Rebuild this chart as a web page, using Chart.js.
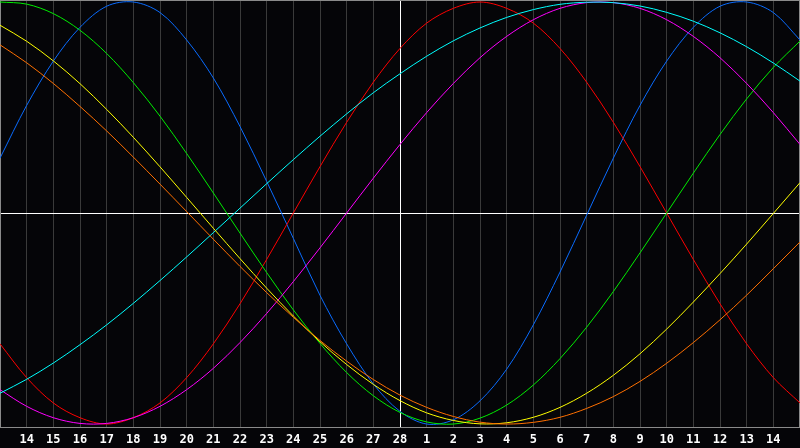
<!DOCTYPE html>
<html lang="en">
<head>
    <meta charset="UTF-8">
    <title>Biorhythm</title>
    <script src="https://cdn.jsdelivr.net/npm/chart.js"></script>
    <style>
        html, body {
            margin: 0;
            padding: 0;
            background: #050508;
        }

        .chart-box {
            position: relative;
            width: 800px;
            height: 448px;
        }
    </style>
</head>
<body>
    <div class="chart-box">
        <canvas id="bioChart"></canvas>
    </div>

    <script>
        // Days shown (February, centre line on the 28th)
        const days = [13, 14, 15, 16, 17, 18, 19, 20, 21, 22, 23, 24, 25, 26, 27, 28,
                      1, 2, 3, 4, 5, 6, 7, 8, 9, 10, 11, 12, 13, 14, 15];

        // Cycle values, one per day
        const physical = [0.26, 0.51, 0.72, 0.88, 0.98, 1.00, 0.95, 0.82, 0.64, 0.41, 0.15,
                          -0.12, -0.39, -0.62, -0.81, -0.94, -1.00, -0.98, -0.89, -0.74, -0.53,
                          -0.28, -0.01, 0.26, 0.51, 0.72, 0.88, 0.98, 1.00, 0.95, 0.82];
        const emotional = [-0.62, -0.78, -0.90, -0.97, -1.00, -0.97, -0.90, -0.78, -0.62, -0.43, -0.22,
                           0.00, 0.22, 0.43, 0.62, 0.78, 0.90, 0.97, 1.00, 0.97, 0.90,
                           0.78, 0.62, 0.43, 0.22, 0.00, -0.22, -0.43, -0.62, -0.78, -0.90];
        const intellectual = [1.00, 0.99, 0.945, 0.866, 0.756, 0.618, 0.459, 0.282, 0.095, -0.095, -0.282,
                              -0.459, -0.618, -0.756, -0.866, -0.945, -0.99, -1.00, -0.972, -0.91, -0.815,
                              -0.69, -0.541, -0.372, -0.189, 0.00, 0.189, 0.372, 0.541, 0.69, 0.815];
        const intuitive = [-0.837, -0.916, -0.97, -0.997, -0.997, -0.97, -0.916, -0.837, -0.736, -0.614, -0.476,
                           -0.325, -0.165, 0.00, 0.165, 0.325, 0.476, 0.614, 0.736, 0.837, 0.916,
                           0.97, 0.997, 0.997, 0.97, 0.916, 0.837, 0.736, 0.614, 0.476, 0.325];
        const aesthetic = [0.89, 0.814, 0.721, 0.613, 0.491, 0.359, 0.219, 0.074, -0.072, -0.216, -0.356,
                           -0.488, -0.61, -0.718, -0.812, -0.889, -0.947, -0.983, -0.999, -0.994, -0.968,
                           -0.921, -0.854, -0.769, -0.667, -0.55, -0.422, -0.287, -0.147, -0.002, 0.144];
        const awareness = [0.797, 0.712, 0.614, 0.505, 0.389, 0.265, 0.137, 0.007, -0.124, -0.253, -0.377,
                           -0.494, -0.604, -0.702, -0.789, -0.863, -0.921, -0.964, -0.991, -1.00, -0.992,
                           -0.968, -0.926, -0.87, -0.798, -0.712, -0.614, -0.506, -0.389, -0.264, -0.137];
        const spiritual = [-0.854, -0.788, -0.711, -0.624, -0.53, -0.428, -0.32, -0.208, -0.093, 0.023, 0.139,
                           0.253, 0.364, 0.47, 0.57, 0.66, 0.743, 0.816, 0.877, 0.927, 0.964,
                           0.989, 0.999, 0.997, 0.981, 0.951, 0.909, 0.854, 0.788, 0.711, 0.625];

        // Frame, centre cross
        const framePlugin = {
            id: 'frame',
            beforeDatasetsDraw(chart) {
                const { ctx, chartArea: a, scales } = chart;
                const cx = Math.round(scales.x.getPixelForValue(15)) + 0.5;
                const cy = Math.round(scales.y.getPixelForValue(0)) + 0.5;
                ctx.save();
                ctx.strokeStyle = '#ffffff';
                ctx.lineWidth = 1;
                ctx.beginPath();
                ctx.moveTo(cx, a.top);
                ctx.lineTo(cx, a.bottom);
                ctx.moveTo(a.left, cy);
                ctx.lineTo(a.right, cy);
                ctx.stroke();
                ctx.strokeStyle = '#8a8a8a';
                ctx.strokeRect(a.left + 0.5, a.top + 0.5, a.right - a.left - 1, a.bottom - a.top);
                ctx.restore();
            }
        };

        const line = (data, color) => ({
            data: data,
            borderColor: color,
            borderWidth: 1,
            pointRadius: 0,
            pointHoverRadius: 0,
            fill: false,
            tension: 0.33
        });

        new Chart(document.getElementById('bioChart'), {
            type: 'line',
            data: {
                labels: days,
                datasets: [
                    line(awareness, '#ff7000'),
                    line(aesthetic, '#ffff00'),
                    line(spiritual, '#00ffff'),
                    line(intuitive, '#ff00ff'),
                    line(intellectual, '#00ee00'),
                    line(emotional, '#ff0000'),
                    line(physical, '#0a6cff')
                ]
            },
            options: {
                responsive: true,
                maintainAspectRatio: false,
                devicePixelRatio: 1,
                animation: false,
                layout: { padding: 0, autoPadding: false },
                plugins: {
                    legend: { display: false },
                    tooltip: { enabled: false }
                },
                scales: {
                    x: {
                        offset: false,
                        border: { display: false },
                        grid: {
                            color: '#3a3a3a',
                            lineWidth: 1,
                            drawTicks: false
                        },
                        ticks: {
                            autoSkip: false,
                            maxRotation: 0,
                            padding: 6,
                            color: '#ffffff',
                            font: { family: 'DejaVu Sans Mono', size: 12, weight: 'bold' },
                            callback: (v, i) => (i === 0 || i === days.length - 1) ? '' : days[i]
                        },
                        afterFit: (s) => {
                            s.height = 21;
                            s.paddingLeft = 0;
                            s.paddingRight = 0;
                        }
                    },
                    y: {
                        display: false,
                        min: -1.014,
                        max: 1.0095
                    }
                }
            },
            plugins: [framePlugin]
        });
    </script>
</body>
</html>
